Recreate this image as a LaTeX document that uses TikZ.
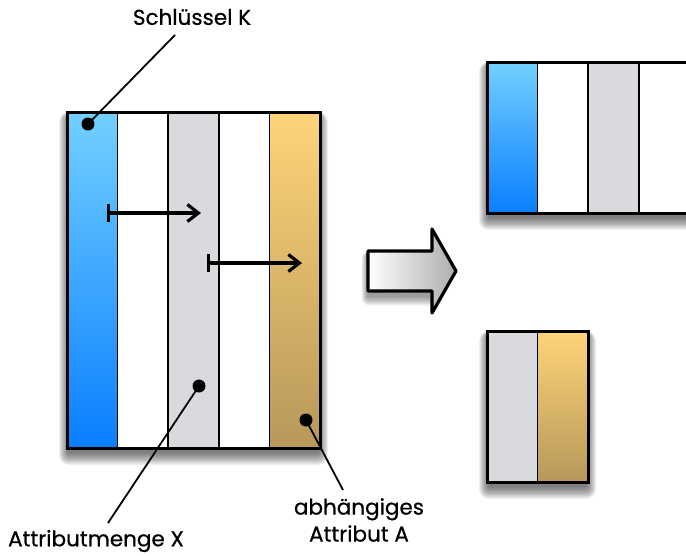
\documentclass[tikz,border=0pt]{standalone}
\usepackage{fontspec}
\setmainfont{Poppins}
\newfontfamily\lblfont{Poppins}[FakeBold=0.6]
\usetikzlibrary{arrows.meta}
\definecolor{blueT}{HTML}{72D0FF}
\definecolor{blueB}{HTML}{0A7EFF}
\definecolor{goldT}{HTML}{FED479}
\definecolor{goldB}{HTML}{B7985A}
\definecolor{colgray}{HTML}{D9DADE}
\newcommand\softshadow[4]{%
  \foreach \i in {1,...,10}{%
    \fill[black,opacity=0.065,rounded corners=\i pt]
      ({#1-\i*1.0+2},{#2+4-\i*0.4}) rectangle ({#3+\i*1.0-2},{#4+4+\i*1.3});}}
\tikzset{
  col/.style={draw=black,line width=1.7pt,inner sep=0pt,outer sep=0pt,anchor=north west},
  frame/.style={draw=black,line width=3pt},
  dot/.style={circle,fill=black,inner sep=0pt,minimum size=13pt},
  lbl/.style={font=\lblfont\fontsize{21.5}{27}\selectfont,inner sep=0pt},
  lead/.style={line width=1.8pt},
  fd/.style={line width=3.2pt,{Bar[width=18pt,line width=3.2pt]}-{Straight Barb[length=11pt,width=17pt,line width=3.2pt]}},
  bigarrow/.style={draw=black,line width=3.2pt,line join=round,left color=white,right color=black!32}
}
\begin{document}
\begin{tikzpicture}[x=1pt,y=-1pt]
\useasboundingbox (0,0) rectangle (686,555);
% ---------- shadows ----------
\softshadow{67}{112}{320}{448}
\softshadow{487}{62}{700}{213}
\softshadow{487}{331}{588}{482}
\foreach \i in {1,...,8}{%
  \fill[black,opacity=0.06,rounded corners=\i pt]
    ({368-\i*0.8},{254-\i*0.3}) rectangle ({436+\i*0.8},{296+\i*1.2});}
% ---------- left table ----------
\node[col,minimum width=50.6pt,minimum height=336pt,top color=blueT,bottom color=blueB] (l1) at (67,112) {};
\node[col,minimum width=50.6pt,minimum height=336pt,fill=white] (l2) at (117.6,112) {};
\node[col,minimum width=50.6pt,minimum height=336pt,fill=colgray] (l3) at (168.2,112) {};
\node[col,minimum width=50.6pt,minimum height=336pt,fill=white] (l4) at (218.8,112) {};
\node[col,minimum width=50.6pt,minimum height=336pt,top color=goldT,bottom color=goldB] (l5) at (269.4,112) {};
\draw[frame] (l1.north west) rectangle (l5.south east);
% ---------- right top table ----------
\node[col,minimum width=50.6pt,minimum height=151pt,top color=blueT,bottom color=blueB] (r1) at (487,62) {};
\node[col,minimum width=50.6pt,minimum height=151pt,fill=white] (r2) at (537.6,62) {};
\node[col,minimum width=50.6pt,minimum height=151pt,fill=colgray] (r3) at (588.2,62) {};
\node[col,minimum width=60pt,minimum height=151pt,fill=white] (r4) at (638.8,62) {};
\draw[frame] (r1.north west) rectangle (r4.south east);
% ---------- right bottom table ----------
\node[col,minimum width=50.6pt,minimum height=151pt,fill=colgray] (b1) at (487,331) {};
\node[col,minimum width=50.6pt,minimum height=151pt,top color=goldT,bottom color=goldB] (b2) at (537.6,331) {};
\draw[frame] (b1.north west) rectangle (b2.south east);
% ---------- functional dependency arrows ----------
\coordinate (a1s) at (107,213);
\coordinate (a1e) at (201,213);
\coordinate (a2s) at (207,263);
\coordinate (a2e) at (302,263);
\draw[fd] (a1s) -- (a1e);
\draw[fd] (a2s) -- (a2e);
% ---------- big arrow ----------
\draw[bigarrow] (368,251) -- (432,251) -- (432,229) -- (456,271) -- (432,313) -- (432,291) -- (368,291) -- cycle;
% ---------- dots and labels ----------
\node[dot] (dk) at (88,124) {};
\node[dot] (dx) at (199,386) {};
\node[dot] (da) at (306,420) {};
\node[lbl] (lk) at (192,17) {Schlüssel K};
\node[lbl] (lx) at (96,541) {Attributmenge X};
\node[lbl,align=center] (la) at (359,520) {abhängiges\\Attribut A};
\coordinate (ek) at (175,35);
\coordinate (ex) at (108,523);
\coordinate (ea) at (343,490);
\draw[lead] (dk.center) -- (ek);
\draw[lead] (dx.center) -- (ex);
\draw[lead] (da.center) -- (ea);
\end{tikzpicture}
\end{document}
